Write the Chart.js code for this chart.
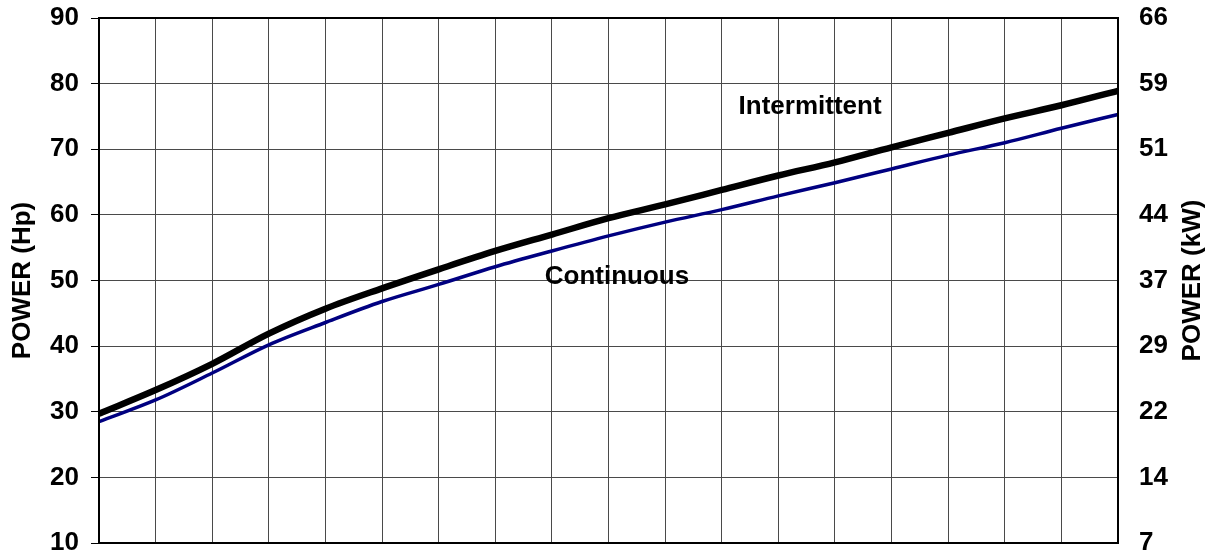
<!DOCTYPE html>
<html>
<head>
<meta charset="utf-8">
<title>Power curve</title>
<script src="https://cdn.jsdelivr.net/npm/chart.js@4/dist/chart.umd.min.js"></script>
<style>
    html, body { margin: 0; padding: 0; background: #fff; }
    #powerChart { display: block; }
</style>
</head>
<body>
<canvas id="powerChart" width="1211" height="555"></canvas>
<script>
// Chart data
const steps = ['0', '1', '2', '3', '4', '5', '6', '7', '8', '9', '10', '11', '12', '13', '14', '15', '16', '17', '18'];
const intermittent = [29.7, 33.3, 37.3, 41.9, 45.7, 48.8, 51.7, 54.5, 57.0, 59.5, 61.6, 63.8, 66.0, 68.0, 70.3, 72.5, 74.7, 76.7, 78.9];
const continuous = [28.5, 31.8, 35.9, 40.2, 43.6, 46.8, 49.4, 52.1, 54.5, 56.8, 58.9, 60.8, 62.9, 64.9, 67.0, 69.1, 71.0, 73.2, 75.3];
const hpTicks = [10, 20, 30, 40, 50, 60, 70, 80, 90];
const kwTicks = ['7', '14', '22', '29', '37', '44', '51', '59', '66'];

const FONT = 'Liberation Sans, Arial, sans-serif';

document.addEventListener('DOMContentLoaded', function() {
    initializeChart();
});

// Frame around the plot area, curve names and the right axis title
const framePlugin = {
    id: 'frame',
    afterDatasetsDraw(chart) {
        const { ctx, chartArea, scales } = chart;
        ctx.save();
        ctx.strokeStyle = '#000';
        ctx.lineWidth = 2;
        ctx.strokeRect(chartArea.left, chartArea.top, chartArea.right - chartArea.left, chartArea.bottom - chartArea.top);

        ctx.fillStyle = '#000';
        ctx.font = 'bold 26px ' + FONT;
        ctx.textAlign = 'center';
        ctx.textBaseline = 'middle';
        ctx.fillText('Intermittent', scales.x.getPixelForValue(12.56), scales.y.getPixelForValue(76.4));
        ctx.fillText('Continuous', scales.x.getPixelForValue(9.15), scales.y.getPixelForValue(50.6));

        // right title reads bottom-to-top like the left one
        ctx.translate(1193, (chartArea.top + chartArea.bottom) / 2);
        ctx.rotate(-Math.PI / 2);
        ctx.fillText('POWER (kW)', 0, 0);
        ctx.restore();
    }
};

function initializeChart() {
    const ctx = document.getElementById('powerChart').getContext('2d');
    new Chart(ctx, {
        type: 'line',
        data: {
            labels: steps,
            datasets: [{
                label: 'Intermittent',
                data: intermittent,
                borderColor: '#000000',
                borderWidth: 6.5,
                pointRadius: 0,
                cubicInterpolationMode: 'monotone',
                yAxisID: 'y'
            }, {
                label: 'Continuous',
                data: continuous,
                borderColor: '#000080',
                borderWidth: 3.5,
                pointRadius: 0,
                cubicInterpolationMode: 'monotone',
                yAxisID: 'y'
            }]
        },
        options: {
            responsive: false,
            animation: false,
            devicePixelRatio: 1,
            layout: {
                padding: { top: 18, bottom: 12, left: 0, right: 0 }
            },
            plugins: {
                legend: { display: false },
                tooltip: { enabled: false }
            },
            scales: {
                x: {
                    type: 'category',
                    offset: false,
                    ticks: { display: false },
                    grid: { color: '#4a4a4a', lineWidth: 1, drawTicks: false },
                    border: { display: false },
                    afterFit: function(scale) {
                        scale.height = 0;
                        scale.paddingLeft = 0;
                        scale.paddingRight = 0;
                    }
                },
                y: {
                    position: 'left',
                    min: 10,
                    max: 90,
                    afterBuildTicks: function(scale) {
                        scale.ticks = hpTicks.map(v => ({ value: v }));
                    },
                    ticks: {
                        color: '#000',
                        padding: 12,
                        font: { family: FONT, size: 26, weight: 'bold' }
                    },
                    grid: { color: '#4a4a4a', lineWidth: 1, tickLength: 8, tickColor: '#000' },
                    border: { display: false },
                    title: {
                        display: true,
                        text: 'POWER (Hp)',
                        color: '#000',
                        padding: { top: 7, bottom: 0 },
                        font: { family: FONT, size: 26, weight: 'bold' }
                    },
                    afterFit: function(scale) {
                        scale.width = 99;
                        scale.paddingTop = 0;
                        scale.paddingBottom = 0;
                    }
                },
                y1: {
                    position: 'right',
                    min: 10,
                    max: 90,
                    afterBuildTicks: function(scale) {
                        scale.ticks = hpTicks.map(v => ({ value: v }));
                    },
                    ticks: {
                        color: '#000',
                        padding: 21,
                        font: { family: FONT, size: 26, weight: 'bold' },
                        callback: function(value) {
                            return kwTicks[hpTicks.indexOf(value)];
                        }
                    },
                    grid: { display: false, drawTicks: false },
                    border: { display: false },
                    afterFit: function(scale) {
                        scale.width = 93;
                        scale.paddingTop = 0;
                        scale.paddingBottom = 0;
                    }
                }
            }
        },
        plugins: [framePlugin]
    });
}
</script>
</body>
</html>
